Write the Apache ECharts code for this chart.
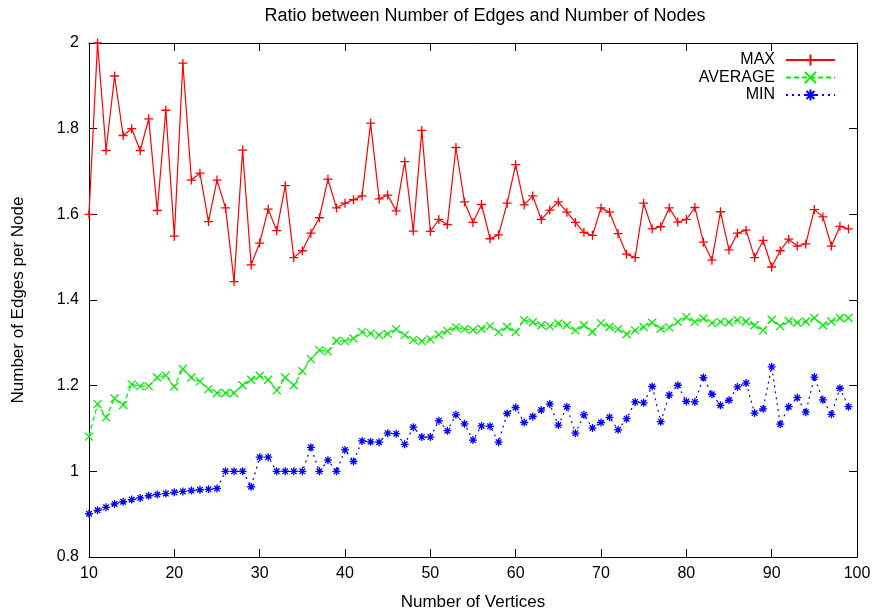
<!DOCTYPE html>
<html>
<head>
<meta charset="utf-8">
<script src="https://cdn.jsdelivr.net/npm/echarts@6/dist/echarts.min.js"></script>
<style>html,body{margin:0;padding:0;background:#fff}#c{width:876px;height:616px}</style>
</head>
<body>
<div id="c"></div>
<script>
const vertices = [10,11,12,13,14,15,16,17,18,19,20,21,22,23,24,25,26,27,28,29,30,31,32,33,34,35,36,37,38,39,40,41,42,43,44,45,46,47,48,49,50,51,52,53,54,55,56,57,58,59,60,61,62,63,64,65,66,67,68,69,70,71,72,73,74,75,76,77,78,79,80,81,82,83,84,85,86,87,88,89,90,91,92,93,94,95,96,97,98,99];
const maxVals = [1.600,2.000,1.749,1.923,1.784,1.800,1.749,1.823,1.609,1.843,1.549,1.953,1.680,1.696,1.583,1.680,1.615,1.443,1.750,1.482,1.533,1.612,1.562,1.667,1.499,1.515,1.556,1.592,1.682,1.615,1.626,1.634,1.643,1.813,1.636,1.645,1.608,1.723,1.561,1.796,1.560,1.588,1.576,1.756,1.629,1.581,1.623,1.543,1.552,1.626,1.716,1.622,1.643,1.588,1.610,1.629,1.605,1.581,1.558,1.551,1.615,1.605,1.555,1.507,1.499,1.626,1.566,1.571,1.615,1.582,1.588,1.616,1.535,1.493,1.606,1.517,1.556,1.563,1.499,1.539,1.477,1.515,1.542,1.526,1.531,1.611,1.594,1.526,1.572,1.566];
const avgVals = [1.081,1.157,1.126,1.170,1.155,1.203,1.199,1.199,1.219,1.224,1.198,1.239,1.219,1.210,1.192,1.183,1.183,1.183,1.201,1.214,1.223,1.214,1.189,1.219,1.201,1.234,1.262,1.283,1.280,1.305,1.304,1.310,1.325,1.322,1.318,1.321,1.332,1.318,1.307,1.304,1.308,1.319,1.328,1.336,1.332,1.330,1.333,1.339,1.325,1.337,1.325,1.353,1.348,1.341,1.339,1.345,1.341,1.329,1.341,1.326,1.346,1.337,1.332,1.320,1.329,1.337,1.347,1.333,1.336,1.349,1.360,1.349,1.357,1.346,1.349,1.348,1.353,1.350,1.341,1.329,1.354,1.339,1.351,1.347,1.350,1.358,1.341,1.350,1.358,1.358];
const minVals = [0.901,0.909,0.916,0.924,0.929,0.934,0.938,0.943,0.946,0.948,0.951,0.953,0.955,0.957,0.958,0.960,1.000,1.000,1.000,0.964,1.033,1.033,1.000,1.000,1.000,1.000,1.056,1.000,1.026,1.000,1.050,1.023,1.071,1.069,1.068,1.089,1.088,1.063,1.103,1.080,1.080,1.118,1.095,1.132,1.111,1.073,1.106,1.105,1.068,1.135,1.149,1.114,1.128,1.143,1.157,1.108,1.151,1.089,1.132,1.101,1.114,1.126,1.097,1.123,1.162,1.160,1.198,1.116,1.178,1.201,1.163,1.162,1.219,1.180,1.154,1.166,1.197,1.206,1.136,1.146,1.244,1.110,1.151,1.172,1.138,1.220,1.167,1.133,1.194,1.151];
const seriesNames = ['MAX','AVERAGE','MIN'];
const titleText = 'Ratio between Number of Edges and Number of Nodes';
const xName = 'Number of Vertices';
const yName = 'Number of Edges per Node';

const FONT = '"Liberation Sans", Arial, sans-serif';
const pair = (vals) => vertices.map((v, i) => [v, vals[i]]);
const plusSym = 'path://M0,5L10,5M5,0L5,10';
const crossSym = 'path://M0,0L10,10M10,0L0,10';
const starSym = 'path://M0,5L10,5M5,0L5,10M1.5,1.5L8.5,8.5M8.5,1.5L1.5,8.5';

const axisCommon = {
  axisLine: { show: true, onZero: false, lineStyle: { color: '#000', width: 1 } },
  axisTick: { show: true, inside: true, length: 8, lineStyle: { color: '#000', width: 1 } },
  splitLine: { show: false }
};

const chart = echarts.init(document.getElementById('c'), null, { renderer: 'canvas' });
chart.setOption({
  animation: false,
  backgroundColor: '#fff',
  title: {
    text: titleText, left: 485, top: 7, textAlign: 'center', padding: 0,
    textStyle: { fontFamily: FONT, fontSize: 18, fontWeight: 'normal', color: '#000' }
  },
  legend: {
    orient: 'vertical', right: 40, top: 52, align: 'right', padding: 0,
    itemWidth: 49, itemHeight: 14, itemGap: 1.5,
    textStyle: { fontFamily: FONT, fontSize: 16, color: '#000', padding: [0, 6, 0, 0] },
    data: seriesNames
  },
  grid: { left: 89, right: 19, top: 43, bottom: 57, containLabel: false },
  xAxis: [
    Object.assign({
      type: 'value', min: 10, max: 100, interval: 10, position: 'bottom',
      name: xName, nameLocation: 'middle', nameGap: 37,
      nameTextStyle: { fontFamily: FONT, fontSize: 17, color: '#000' },
      axisLabel: { fontFamily: FONT, fontSize: 16, color: '#000', margin: 9 }
    }, axisCommon),
    Object.assign({
      type: 'value', min: 10, max: 100, interval: 10, position: 'top',
      axisLabel: { show: false }
    }, axisCommon)
  ],
  yAxis: [
    Object.assign({
      type: 'value', min: 0.8, max: 2, interval: 0.2, position: 'left',
      name: yName, nameLocation: 'middle', nameGap: 62, nameRotate: 90,
      nameTextStyle: { fontFamily: FONT, fontSize: 17, color: '#000' },
      axisLabel: { fontFamily: FONT, fontSize: 16, color: '#000', margin: 10,
        formatter: (v) => String(+v.toFixed(1)) }
    }, axisCommon),
    Object.assign({
      type: 'value', min: 0.8, max: 2, interval: 0.2, position: 'right',
      axisLabel: { show: false }
    }, axisCommon)
  ],
  series: [
    {
      name: seriesNames[0], type: 'line', data: pair(maxVals), xAxisIndex: 0, yAxisIndex: 0,
      symbol: plusSym, symbolSize: 9, showAllSymbol: true,
      lineStyle: { color: '#ff0000', width: 1.2, type: 'solid' },
      itemStyle: { color: '#ff0000', borderColor: '#ff0000', borderWidth: 1.3 }
    },
    {
      name: seriesNames[1], type: 'line', data: pair(avgVals), xAxisIndex: 0, yAxisIndex: 0,
      symbol: crossSym, symbolSize: 8, showAllSymbol: true,
      lineStyle: { color: '#00ee00', width: 1.2, type: [5, 3] },
      itemStyle: { color: '#00ee00', borderColor: '#00ee00', borderWidth: 1.3 }
    },
    {
      name: seriesNames[2], type: 'line', data: pair(minVals), xAxisIndex: 0, yAxisIndex: 0,
      symbol: starSym, symbolSize: 8, showAllSymbol: true,
      lineStyle: { color: '#0000ff', width: 1.2, type: [2, 4] },
      itemStyle: { color: '#0000ff', borderColor: '#0000ff', borderWidth: 1.3 }
    }
  ]
});
</script>
</body>
</html>
